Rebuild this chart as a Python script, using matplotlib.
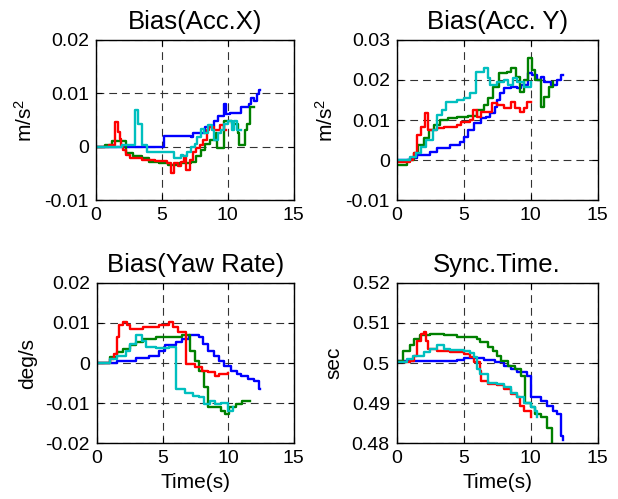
import matplotlib
matplotlib.use('Agg')
from matplotlib import pyplot as plt

plt.rcParams['font.family'] = ['Liberation Sans', 'DejaVu Sans']
plt.rcParams['mathtext.fontset'] = 'custom'
plt.rcParams['mathtext.rm'] = 'Liberation Sans'
plt.rcParams['mathtext.it'] = 'Liberation Sans'

# ---- Bias(Acc.X) ----
accx_blue_t = [0, 4.8, 5.2, 7.2, 7.4, 8.1, 8.3, 9.0, 9.3, 9.7, 9.9, 10.2, 11.0, 11.6, 11.8, 12.0, 12.2, 12.4, 12.45]
accx_blue = [0, 0, 0.0020, 0.0019, 0.0025, 0.0025, 0.0037, 0.0049, 0.0058, 0.0080, 0.0061, 0.0064, 0.0074, 0.0080, 0.0092, 0.0086, 0.0098, 0.0107, 0.0107]
accx_red_t = [0, 1.0, 1.45, 1.65, 1.8, 1.95, 2.1, 2.3, 2.6, 3.5, 4.5, 5.4, 5.7, 5.9, 6.2, 6.5, 6.7, 6.85, 7.15, 7.35, 7.6, 7.9, 8.1, 8.4, 8.6, 9.0, 9.4, 9.7, 9.9]
accx_red = [0, 0.0003, 0.0046, 0.0028, 0.0015, 0.0003, -0.0006, -0.0015, -0.0021, -0.0025, -0.0026, -0.0031, -0.0049, -0.0031, -0.0037, -0.0028, -0.0018, -0.0043, -0.0025, -0.0009, -0.0003, 0.0003, 0.0012, 0.0031, 0.0037, 0.0031, 0.0040, 0.0031, 0.0031]
accx_green_t = [0, 0.7, 1.2, 2.0, 2.3, 2.8, 3.5, 4.0, 4.8, 5.5, 6.3, 7.2, 7.6, 8.0, 8.3, 8.7, 9.1, 9.2, 9.6, 9.7, 10.3, 10.8, 10.9, 11.3, 11.5, 11.7, 12.0]
accx_green = [0, 0.0003, 0.0010, 0.0010, -0.0012, -0.0018, -0.0021, -0.0028, -0.0031, -0.0034, -0.0031, -0.0028, -0.0018, -0.0006, 0.0006, 0.0012, 0.0025, -0.0003, -0.0003, 0.0049, 0.0043, 0.0025, 0.0003, 0.0031, 0.0043, 0.0074, 0.0074]
accx_cyan_t = [0, 2.0, 3.0, 3.2, 3.5, 3.9, 5.9, 6.5, 6.6, 6.9, 7.2, 7.5, 7.7, 8.0, 8.2, 8.5, 8.8, 9.0, 9.3, 9.5, 9.7, 10.0, 10.3, 10.5, 10.7, 11.0]
accx_cyan = [0, 0.0003, 0.0069, 0.0043, 0.0003, -0.0009, -0.0021, -0.0015, -0.0018, -0.0009, 0.0, 0.0006, 0.0018, 0.0034, 0.0025, 0.0040, 0.0031, 0.0012, 0.0025, 0.0031, 0.0043, 0.0049, 0.0031, 0.0049, 0.0031, 0.0031]

# ---- Bias(Acc. Y) ----
accy_blue_t = [0, 1.0, 1.5, 2.5, 3.0, 4.0, 4.7, 5.0, 5.3, 5.8, 6.3, 6.7, 7.0, 7.3, 7.5, 7.7, 8.0, 8.5, 9.0, 9.3, 9.8, 10.1, 10.5, 10.8, 11.0, 11.5, 12.0, 12.3, 12.45]
accy_blue = [0, 0.0004, 0.0013, 0.0021, 0.0029, 0.0038, 0.0046, 0.0058, 0.0075, 0.0092, 0.0104, 0.0108, 0.0117, 0.0133, 0.0150, 0.0167, 0.0179, 0.0183, 0.0179, 0.0188, 0.0217, 0.0213, 0.0200, 0.0208, 0.0196, 0.0188, 0.0200, 0.0213, 0.0213]
accy_red_t = [0, 1.0, 1.2, 1.3, 1.5, 1.8, 2.1, 2.3, 3.0, 3.5, 4.5, 4.8, 5.5, 5.7, 6.0, 6.3, 7.1, 7.5, 8.0, 8.5, 8.8, 9.2, 9.5, 9.7, 10.0]
accy_red = [-0.0004, 0, 0.0008, 0.0017, 0.0063, 0.0083, 0.0117, 0.0075, 0.0079, 0.0083, 0.0088, 0.0096, 0.0100, 0.0125, 0.0108, 0.0121, 0.0142, 0.0138, 0.0129, 0.0146, 0.0129, 0.0121, 0.0129, 0.0146, 0.0146]
accy_green_t = [0, 0.8, 1.0, 1.3, 1.6, 2.0, 2.4, 2.8, 3.2, 3.8, 4.5, 5.3, 6.0, 6.5, 6.8, 7.2, 7.6, 8.2, 8.5, 8.9, 9.2, 9.5, 9.8, 10.1, 10.3, 10.8, 11.0, 11.4, 11.7]
accy_green = [-0.0013, 0, 0, 0.0017, 0.0038, 0.0054, 0.0075, 0.0088, 0.0100, 0.0104, 0.0107, 0.0110, 0.0125, 0.0138, 0.0154, 0.0183, 0.0217, 0.0221, 0.0229, 0.0208, 0.0171, 0.0200, 0.0254, 0.0225, 0.0200, 0.0133, 0.0158, 0.0183, 0.0196]
accy_cyan_t = [0, 1.0, 1.4, 1.8, 2.2, 2.7, 3.0, 3.4, 3.7, 4.5, 5.0, 5.5, 5.9, 6.5, 6.8, 7.0, 7.5, 8.0, 8.3, 8.7, 9.0, 9.5, 10.0]
accy_cyan = [0, 0.0008, 0.0017, 0.0033, 0.0050, 0.0075, 0.0113, 0.0125, 0.0146, 0.0150, 0.0154, 0.0167, 0.0221, 0.0229, 0.0204, 0.0188, 0.0196, 0.0200, 0.0188, 0.0204, 0.0196, 0.0183, 0.0196]

# ---- Bias(Yaw Rate) ----
yaw_blue_t = [0, 1.5, 3.0, 4.0, 4.7, 5.2, 6.0, 6.5, 7.0, 7.8, 8.1, 8.5, 8.9, 9.3, 9.7, 10.2, 10.7, 11.0, 11.5, 12.0, 12.4, 12.45]
yaw_blue = [0, 0.0006, 0.0012, 0.0018, 0.0031, 0.0044, 0.0052, 0.0060, 0.0069, 0.0064, 0.0048, 0.0031, 0.0018, 0.0006, -0.0007, -0.0019, -0.0028, -0.0032, -0.0040, -0.0044, -0.0065, -0.0065]
yaw_red_t = [0, 1.0, 1.3, 1.5, 1.7, 2.0, 2.3, 2.5, 3.5, 4.7, 5.5, 5.8, 6.2, 6.8, 7.5, 8.0, 8.5, 9.0, 9.3, 10.0]
yaw_red = [0, 0.0010, 0.0023, 0.0064, 0.0094, 0.0102, 0.0094, 0.0085, 0.0090, 0.0094, 0.0102, 0.0090, 0.0077, -0.0003, -0.0011, -0.0019, -0.0023, -0.0032, -0.0028, -0.0026]
yaw_green_t = [0, 1.0, 1.5, 2.0, 2.5, 3.0, 3.5, 4.5, 5.5, 6.5, 7.1, 7.5, 7.8, 8.2, 8.5, 9.5, 9.8, 10.1, 10.6, 11.1, 11.7]
yaw_green = [0, 0.0014, 0.0027, 0.0035, 0.0044, 0.0052, 0.0060, 0.0064, 0.0066, 0.0069, 0.0031, 0.0006, -0.0019, -0.0061, -0.0111, -0.0120, -0.0128, -0.0111, -0.0103, -0.0095, -0.0095]
yaw_cyan_t = [0, 1.0, 1.5, 2.2, 2.5, 3.0, 3.4, 3.7, 4.5, 5.5, 6.0, 6.7, 7.3, 7.8, 8.2, 8.6, 9.0, 9.5, 10.0, 10.4]
yaw_cyan = [0, 0.0010, 0.0018, 0.0031, 0.0048, 0.0069, 0.0056, 0.0039, 0.0038, 0.0039, -0.0065, -0.0074, -0.0082, -0.0086, -0.0103, -0.0094, -0.0103, -0.0099, -0.0120, -0.0111]

# ---- Sync.Time. ----
sync_blue_t = [0, 4.5, 5.0, 6.5, 7.3, 8.0, 8.5, 9.0, 9.7, 10.0, 10.8, 11.2, 11.7, 12.0, 12.3, 12.45]
sync_blue = [0.5006, 0.5008, 0.5012, 0.5008, 0.5002, 0.4993, 0.4985, 0.4977, 0.4968, 0.4914, 0.4905, 0.4893, 0.4880, 0.4872, 0.4818, 0.4809]
sync_red_t = [0, 1.0, 1.3, 1.5, 1.8, 2.0, 2.2, 2.3, 3.0, 4.0, 5.0, 5.5, 5.8, 6.2, 6.3, 6.8, 7.5, 8.0, 8.5, 9.0, 9.2, 9.5, 10.0]
sync_red = [0.5002, 0.5006, 0.5018, 0.5056, 0.5073, 0.5077, 0.5056, 0.5035, 0.5031, 0.5027, 0.5023, 0.5014, 0.5002, 0.4981, 0.4956, 0.4947, 0.4944, 0.4935, 0.4922, 0.4914, 0.4893, 0.4880, 0.4864]
sync_green_t = [0, 0.5, 1.0, 1.3, 1.7, 2.5, 3.5, 4.5, 6.0, 6.2, 6.8, 7.2, 7.5, 7.8, 8.3, 8.8, 9.3, 9.6, 10.0, 10.3, 10.8, 11.2, 11.6]
sync_green = [0.5006, 0.5031, 0.5044, 0.5060, 0.5069, 0.5073, 0.5069, 0.5064, 0.5060, 0.5052, 0.5039, 0.5031, 0.5018, 0.5006, 0.4993, 0.4985, 0.4968, 0.4901, 0.4889, 0.4872, 0.4864, 0.4838, 0.4798]
sync_cyan_t = [0, 0.8, 1.2, 2.0, 2.5, 3.0, 3.5, 4.0, 5.0, 5.5, 5.8, 6.0, 6.2, 6.8, 7.5, 8.0, 8.5, 9.0, 9.5, 10.0, 10.3, 10.5]
sync_cyan = [0.5002, 0.5010, 0.5018, 0.5027, 0.5035, 0.5044, 0.5035, 0.5033, 0.5029, 0.5024, 0.5014, 0.4985, 0.4972, 0.4951, 0.4947, 0.4939, 0.4926, 0.4914, 0.4901, 0.4889, 0.4880, 0.4864]

colors = {'blue': '#0000ff', 'green': '#008000', 'red': '#ff0000', 'cyan': '#00bfbf'}

panels = [
    ('Bias(Acc.X)', 'm/s$^2$', (-0.01, 0.02), [-0.01, 0, 0.01, 0.02], ['-0.01', '0', '0.01', '0.02'],
     [(accx_blue_t, accx_blue, 'blue'), (accx_green_t, accx_green, 'green'),
      (accx_red_t, accx_red, 'red'), (accx_cyan_t, accx_cyan, 'cyan')]),
    ('Bias(Acc. Y)', 'm/s$^2$', (-0.01, 0.03), [-0.01, 0, 0.01, 0.02, 0.03], ['-0.01', '0', '0.01', '0.02', '0.03'],
     [(accy_blue_t, accy_blue, 'blue'), (accy_green_t, accy_green, 'green'),
      (accy_red_t, accy_red, 'red'), (accy_cyan_t, accy_cyan, 'cyan')]),
    ('Bias(Yaw Rate)', 'deg/s', (-0.02, 0.02), [-0.02, -0.01, 0, 0.01, 0.02], ['-0.02', '-0.01', '0', '0.01', '0.02'],
     [(yaw_blue_t, yaw_blue, 'blue'), (yaw_green_t, yaw_green, 'green'),
      (yaw_red_t, yaw_red, 'red'), (yaw_cyan_t, yaw_cyan, 'cyan')]),
    ('Sync.Time.', 'sec', (0.48, 0.52), [0.48, 0.49, 0.5, 0.51, 0.52], ['0.48', '0.49', '0.5', '0.51', '0.52'],
     [(sync_blue_t, sync_blue, 'blue'), (sync_green_t, sync_green, 'green'),
      (sync_red_t, sync_red, 'red'), (sync_cyan_t, sync_cyan, 'cyan')]),
]

fig = plt.figure(figsize=(6.18, 4.99), dpi=100)
rects = [[0.155, 0.599, 0.320, 0.321], [0.642, 0.599, 0.325, 0.321],
         [0.157, 0.112, 0.318, 0.321], [0.642, 0.112, 0.325, 0.321]]

for i, (title, ylab, ylim, yt, ytl, lines) in enumerate(panels):
    ax = fig.add_axes(rects[i])
    for t, v, c in lines:
        ax.plot(t, v, drawstyle='steps-post', color=colors[c], lw=1.7)
    ax.set_xlim(0, 15)
    ax.set_ylim(*ylim)
    ax.set_xticks([0, 5, 10, 15])
    ax.set_yticks(yt)
    ax.set_yticklabels(ytl)
    ax.tick_params(direction='in', top=True, right=True, labelsize=14, length=4, pad=5)
    ax.grid(True, color='#333333', linestyle=(0, (7, 4.5)), lw=0.8)
    ax.set_title(title, fontsize=18.5, pad=8)
    ax.set_ylabel(ylab, fontsize=15, labelpad=6)
    if i >= 2:
        ax.set_xlabel('Time(s)', fontsize=15, labelpad=4)
    for s in ax.spines.values():
        s.set_linewidth(1.0)

fig.savefig('out.png', dpi=100)
